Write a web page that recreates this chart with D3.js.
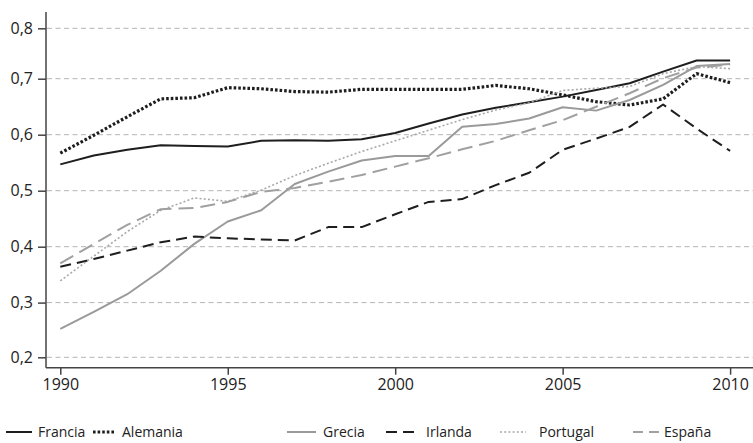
<!DOCTYPE html>
<html>
<head>
<meta charset="utf-8">
<script src="https://cdn.jsdelivr.net/npm/d3@7/dist/d3.min.js"></script>
<style>
  html, body { margin: 0; padding: 0; background: #fff; }
  svg { display: block; font-family: "Open Sans", sans-serif; }
</style>
</head>
<body>
<svg id="chart" width="753" height="443"></svg>
<script>
// ---- data ----
const years = [1990,1991,1992,1993,1994,1995,1996,1997,1998,1999,2000,2001,2002,2003,2004,2005,2006,2007,2008,2009,2010];
const francia  = [0.547,0.563,0.573,0.581,0.580,0.579,0.589,0.590,0.589,0.592,0.603,0.620,0.636,0.648,0.658,0.668,0.680,0.692,0.714,0.736,0.736];
const alemania = [0.567,0.599,0.632,0.664,0.666,0.684,0.682,0.677,0.676,0.681,0.681,0.681,0.681,0.688,0.682,0.671,0.659,0.653,0.664,0.710,0.693];
const grecia   = [0.252,0.283,0.315,0.357,0.405,0.445,0.465,0.512,0.534,0.554,0.562,0.562,0.614,0.619,0.629,0.649,0.643,0.662,0.689,0.725,0.729];
const irlanda  = [0.364,0.378,0.393,0.408,0.418,0.415,0.413,0.411,0.435,0.435,0.458,0.480,0.485,0.510,0.532,0.573,0.593,0.614,0.654,0.611,0.571];
const portugal = [0.339,0.383,0.427,0.465,0.487,0.481,0.501,0.527,0.549,0.570,0.589,0.608,0.627,0.644,0.657,0.679,0.683,0.686,0.710,0.724,0.720];
const espana   = [0.370,0.405,0.439,0.467,0.469,0.480,0.498,0.505,0.516,0.528,0.543,0.558,0.574,0.589,0.608,0.626,0.650,0.674,0.701,0.722,0.728];
const seriesNames = ["Francia","Alemania","Grecia","Irlanda","Portugal","España"];
const yTicks = [0.2,0.3,0.4,0.5,0.6,0.7,0.8];
const xTicks = [1990,1995,2000,2005,2010];

// ---- styles ----
const styles = {
  "Francia":  {color:"#1e1e1e", width:2,   dash:null,      legendDash:null},
  "Alemania": {color:"#1e1e1e", width:3.2, dash:"2.6,2",   legendDash:"2.6,2"},
  "Grecia":   {color:"#9a9a9a", width:2,   dash:null,      legendDash:null},
  "Irlanda":  {color:"#1e1e1e", width:2,   dash:"11,6",    legendDash:"11,6"},
  "Portugal": {color:"#a8a8a8", width:1.6, dash:"2,2.2",   legendDash:"2,2.2"},
  "España":   {color:"#a0a0a0", width:2,   dash:"15,7",    legendDash:"10,6"}
};
const values = {"Francia":francia,"Alemania":alemania,"Grecia":grecia,"Irlanda":irlanda,"Portugal":portugal,"España":espana};

const svg = d3.select("#chart");
const axisX0 = 46, axisRight = 753, axisY0 = 367.7, axisTop = 12;

const x = d3.scaleLinear().domain([1990, 2010]).range([60.3, 730.1]);
const y = d3.scaleLinear().domain(yTicks).range([357.3, 302.6, 246.7, 190.7, 134.7, 78.7, 28.3]);

// gridlines
svg.append("g").selectAll("line").data(yTicks).join("line")
  .attr("x1", axisX0 + 1).attr("x2", axisRight)
  .attr("y1", d => y(d)).attr("y2", d => y(d))
  .attr("stroke", "#b4b4b4").attr("stroke-width", 1).attr("stroke-dasharray", "5,3.5");

// y axis
const yAxis = d3.axisLeft(y).tickValues(yTicks).tickSize(8).tickPadding(5)
  .tickFormat(d => d3.format(".1f")(d).replace(".", ","));
const gy = svg.append("g").attr("transform", `translate(${axisX0},0)`).call(yAxis);
gy.select(".domain").remove();
gy.selectAll(".tick line").attr("stroke", "#444").attr("stroke-width", 1.5);
gy.selectAll(".tick text").attr("fill", "#222").style("font-size", "16px").style("font-family", "'Open Sans', sans-serif");
svg.append("line").attr("x1", axisX0).attr("x2", axisX0).attr("y1", axisTop).attr("y2", axisY0)
  .attr("stroke", "#444").attr("stroke-width", 1.5);

// x axis
const xAxis = d3.axisBottom(x).tickValues(xTicks).tickSize(7).tickPadding(4).tickFormat(d3.format("d"));
const gx = svg.append("g").attr("transform", `translate(0,${axisY0})`).call(xAxis);
gx.select(".domain").remove();
gx.selectAll(".tick line").attr("stroke", "#444").attr("stroke-width", 1.5);
gx.selectAll(".tick text").attr("fill", "#222").style("font-size", "16px").style("font-family", "'Open Sans', sans-serif");
svg.append("line").attr("x1", axisX0).attr("x2", axisRight).attr("y1", axisY0).attr("y2", axisY0)
  .attr("stroke", "#444").attr("stroke-width", 1.5);

// lines
const line = d3.line().x((d, i) => x(years[i])).y(d => y(d));
seriesNames.forEach(name => {
  const s = styles[name];
  svg.append("path").datum(values[name])
    .attr("d", line).attr("fill", "none")
    .attr("stroke", s.color).attr("stroke-width", s.width)
    .attr("stroke-dasharray", s.dash)
    .attr("stroke-linejoin", "round");
});

// legend
const legendY = 432;
const legendItems = [
  {name:"Francia",  lx:6,   lw:26, tx:38},
  {name:"Alemania", lx:93,  lw:23, tx:122},
  {name:"Grecia",   lx:287, lw:29, tx:323},
  {name:"Irlanda",  lx:386, lw:28, tx:426},
  {name:"Portugal", lx:500, lw:26, tx:539},
  {name:"España",   lx:633, lw:26, tx:664}
];
const lg = svg.append("g");
legendItems.forEach(it => {
  const s = styles[it.name];
  lg.append("line").attr("x1", it.lx).attr("x2", it.lx + it.lw).attr("y1", legendY).attr("y2", legendY)
    .attr("stroke", s.color).attr("stroke-width", s.width).attr("stroke-dasharray", s.legendDash);
  lg.append("text").attr("x", it.tx).attr("y", legendY + 5)
    .attr("fill", "#222").style("font-size", "14px").text(it.name);
});
</script>
</body>
</html>
